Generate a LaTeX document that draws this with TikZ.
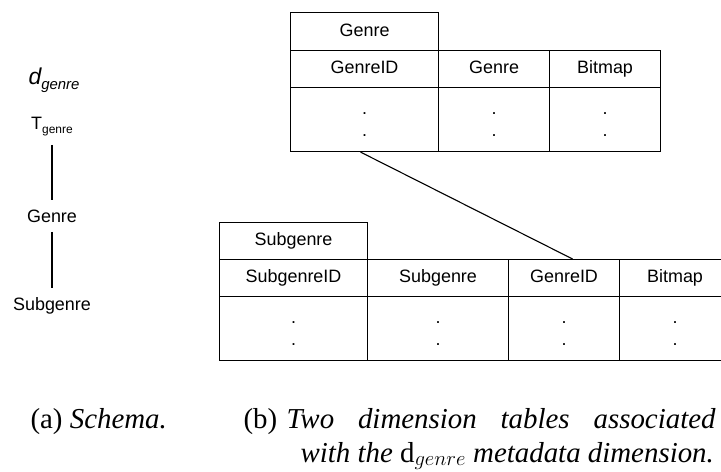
\documentclass[tikz,border=0pt]{standalone}
\usepackage{fontspec}
\setmainfont{Liberation Serif}
\newfontfamily\arialf{Liberation Sans}
\begin{document}
\begin{tikzpicture}[x=1bp,y=-1bp,line width=1.1bp,
  tabtext/.style={font=\arialf\fontsize{18}{20}\selectfont},
  cell/.style={draw,anchor=north west,inner sep=0pt,minimum height=37bp,text height=13bp,text depth=4bp,tabtext},
  datacell/.style={draw,anchor=north west,inner sep=0pt,minimum height=64bp},
  dotpair/.style={inner sep=0pt,align=center,font=\arialf\fontsize{18}{22}\selectfont},
  hier/.style={inner sep=0pt,tabtext},
  link/.style={draw,line width=1.1bp},
  captext/.style={inner sep=0pt,anchor=base west,font=\fontsize{29}{34}\selectfont}]
\clip (0,0) rectangle (721,472);
% ---------- left hierarchy ----------
\node[hier] (dg) at (54,80) {{\fontsize{23}{25}\selectfont\itshape d}\raisebox{-5bp}{\fontsize{15}{17}\selectfont\itshape genre}};
\node[hier] (tg) at (52,127) {T\raisebox{-4bp}{\fontsize{12}{14}\selectfont genre}};
\node[hier] (gen) at (52,216) {Genre};
\node[hier] (sub) at (52,306) {Subgenre};
\draw[link, shorten <=8bp, shorten >=9bp] (tg.south) -- (gen.north);
\draw[link, shorten <=9bp, shorten >=9bp] (gen.south) -- (sub.north);
% ---------- top table ----------
\node[cell,minimum width=148bp,minimum height=38bp] (tT) at (290,12) {Genre};
\node[cell,minimum width=148bp] (tH1) at (290,50) {GenreID};
\node[cell,minimum width=111bp] (tH2) at (438,50) {Genre};
\node[cell,minimum width=111bp] (tH3) at (549,50) {Bitmap};
\node[datacell,minimum width=148bp] (tD1) at (290,87) {};
\node[datacell,minimum width=111bp] (tD2) at (438,87) {};
\node[datacell,minimum width=111bp] (tD3) at (549,87) {};
\node[dotpair] (tP1) at ([yshift=-5bp]tD1.center) {.\\.};
\node[dotpair] (tP2) at ([yshift=-5bp]tD2.center) {.\\.};
\node[dotpair] (tP3) at ([yshift=-5bp]tD3.center) {.\\.};
% ---------- bottom table ----------
\node[cell,minimum width=148bp] (bT) at (219,222) {Subgenre};
\node[cell,minimum width=148bp] (bH1) at (219,259) {SubgenreID};
\node[cell,minimum width=141bp] (bH2) at (367,259) {Subgenre};
\node[cell,minimum width=111bp] (bH3) at (508,259) {GenreID};
\node[cell,minimum width=111bp] (bH4) at (619,259) {Bitmap};
\node[datacell,minimum width=148bp] (bD1) at (219,296) {};
\node[datacell,minimum width=141bp] (bD2) at (367,296) {};
\node[datacell,minimum width=111bp] (bD3) at (508,296) {};
\node[datacell,minimum width=111bp] (bD4) at (619,296) {};
\node[dotpair] (bP1) at ([yshift=-5bp]bD1.center) {.\\.};
\node[dotpair] (bP2) at ([yshift=-5bp]bD2.center) {.\\.};
\node[dotpair] (bP3) at ([yshift=-5bp]bD3.center) {.\\.};
\node[dotpair] (bP4) at ([yshift=-5bp]bD4.center) {.\\.};
% ---------- connector ----------
\draw[link] ([xshift=-4bp]tD1.south) -- ([xshift=8.5bp]bH3.north);
% ---------- captions ----------
\node[captext] (capa) at (30,428) {(a) \textit{Schema.}};
\node[captext] (capb) at (243,428) {(b)};
\node[captext] (capb1) at (286,428) {\makebox[429bp][s]{\itshape Two dimension tables associated}};
\node[captext] (capb2) at (300,462) {\itshape with the $\mathrm{d}_{genre}$ metadata dimension.};
\end{tikzpicture}
\end{document}
